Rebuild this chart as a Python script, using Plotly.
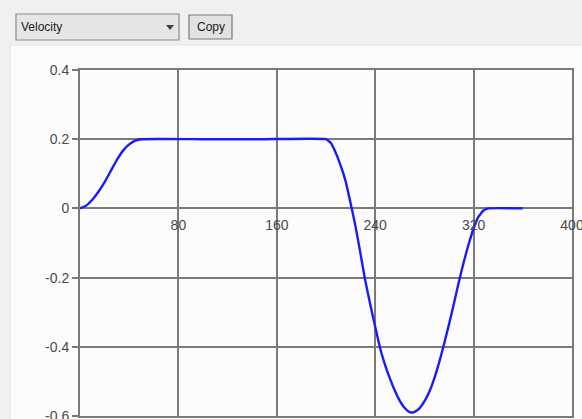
import plotly.graph_objects as go

# ---- data ----
time_x = [0, 5, 10, 15, 20, 25, 30, 35, 40, 45, 50, 100, 150, 200, 204, 208, 212, 216, 220,
          224, 228, 232, 236, 240, 244, 248, 252, 256, 260, 264, 268, 270, 272, 276, 280, 284,
          288, 292, 296, 300, 304, 308, 312, 316, 320, 324, 328, 332, 360]
velocity = [0.0, 0.008, 0.025, 0.048, 0.076, 0.108, 0.140, 0.167, 0.185, 0.196, 0.200, 0.200,
            0.200, 0.200, 0.189, 0.160, 0.123, 0.078, 0.015, -0.052, -0.130, -0.210, -0.278,
            -0.342, -0.404, -0.452, -0.492, -0.527, -0.556, -0.577, -0.589, -0.590, -0.588,
            -0.578, -0.558, -0.530, -0.492, -0.445, -0.392, -0.335, -0.275, -0.213, -0.155,
            -0.103, -0.058, -0.024, -0.006, 0.0, 0.0]
x_ticks = [0, 80, 160, 240, 320, 400]
x_tick_labels = ["80", "160", "240", "320", "400"]
y_ticks = [-0.6, -0.4, -0.2, 0, 0.2, 0.4]
y_tick_labels = ["-0.6", "-0.4", "-0.2", "0", "0.2", "0.4"]
selector_text = "Velocity"
button_text = "Copy"

W, H = 582, 419
ML, MR, MT, MB = 80, 10, 70, 3
PW, PH = W - ML - MR, H - MT - MB


def px(x):
    return (x - ML) / PW


def py(y):
    return (H - MB - y) / PH


GRID = "#7a7a7a"
FONT = "Liberation Sans"
LABEL = "#4a4a4a"

fig = go.Figure()
fig.add_trace(go.Scatter(x=time_x, y=velocity, mode="lines",
                         line=dict(color="#1a1aff", width=2.4, shape="spline", smoothing=0.35),
                         hoverinfo="skip", showlegend=False))
# helper trace so the label axis (drawn at y = 0) exists
fig.add_trace(go.Scatter(x=[None], y=[None], xaxis="x2", mode="lines",
                         hoverinfo="skip", showlegend=False))

fig.update_layout(
    template="none",
    width=W, height=H,
    margin=dict(l=ML, r=MR, t=MT, b=MB, pad=0),
    paper_bgcolor="#f0f0f0",
    plot_bgcolor="#fdfdfd",
    font=dict(family=FONT, size=14, color=LABEL),
    showlegend=False,
    xaxis=dict(range=[0, 400], tickvals=x_ticks, showticklabels=False,
               showgrid=True, gridcolor=GRID, gridwidth=2,
               zeroline=False, showline=True, linecolor=GRID, linewidth=2, mirror=True,
               ticks="", automargin=False, fixedrange=True),
    xaxis2=dict(range=[0, 400], overlaying="x", anchor="free", position=0.6,
                tickvals=x_ticks[1:], ticktext=x_tick_labels, side="bottom",
                showgrid=False, zeroline=False, showline=False, ticks="outside",
                ticklen=4, tickcolor="rgba(0,0,0,0)", ticklabeloverflow="allow",
                tickfont=dict(family=FONT, size=14, color=LABEL),
                automargin=False, fixedrange=True),
    yaxis=dict(range=[-0.6, 0.4], tickvals=y_ticks, ticktext=y_tick_labels,
               showgrid=True, gridcolor=GRID, gridwidth=2,
               zeroline=True, zerolinecolor=GRID, zerolinewidth=2,
               showline=True, linecolor=GRID, linewidth=2, mirror=True,
               ticks="outside", ticklen=6, tickwidth=2, tickcolor=GRID,
               ticklabeloverflow="allow",
               tickfont=dict(family=FONT, size=14, color=LABEL),
               automargin=False, fixedrange=True),
)

shapes = []
# chart panel (lighter area below the toolbar)
shapes.append(dict(type="rect", xref="paper", yref="paper", layer="below",
                   x0=px(10), x1=px(W + 5), y0=py(H + 5), y1=py(45),
                   fillcolor="#fcfcfc", line=dict(color="#e2e2e2", width=1)))
# dropdown
shapes.append(dict(type="rect", xref="paper", yref="paper",
                   x0=px(16), x1=px(179), y0=py(40), y1=py(14),
                   fillcolor="#e6e6e6", line=dict(color="#8c8c8c", width=1.2)))
# dropdown arrow
ax0, ay0 = px(166), py(25)
ax1 = px(174)
axm, aym = px(170), py(30)
shapes.append(dict(type="path", xref="paper", yref="paper",
                   path=f"M {ax0} {ay0} L {ax1} {ay0} L {axm} {aym} Z",
                   fillcolor="#404040", line=dict(width=0)))
# copy button
shapes.append(dict(type="rect", xref="paper", yref="paper",
                   x0=px(189), x1=px(232), y0=py(39), y1=py(15),
                   fillcolor="#e2e2e2", line=dict(color="#7a7a7a", width=1.2)))
fig.update_layout(shapes=shapes)

fig.add_annotation(xref="paper", yref="paper", x=px(19), y=py(27), xanchor="left",
                   yanchor="middle", text=selector_text, showarrow=False,
                   font=dict(family=FONT, size=12, color="#1a1a1a"))
fig.add_annotation(xref="paper", yref="paper", x=px(210.5), y=py(27), xanchor="center",
                   yanchor="middle", text=button_text, showarrow=False,
                   font=dict(family=FONT, size=12, color="#1a1a1a"))

fig.write_html("out.html", config={"displayModeBar": False},
               post_script="document.body.style.margin='0';"
                           "document.body.style.overflow='hidden';")
